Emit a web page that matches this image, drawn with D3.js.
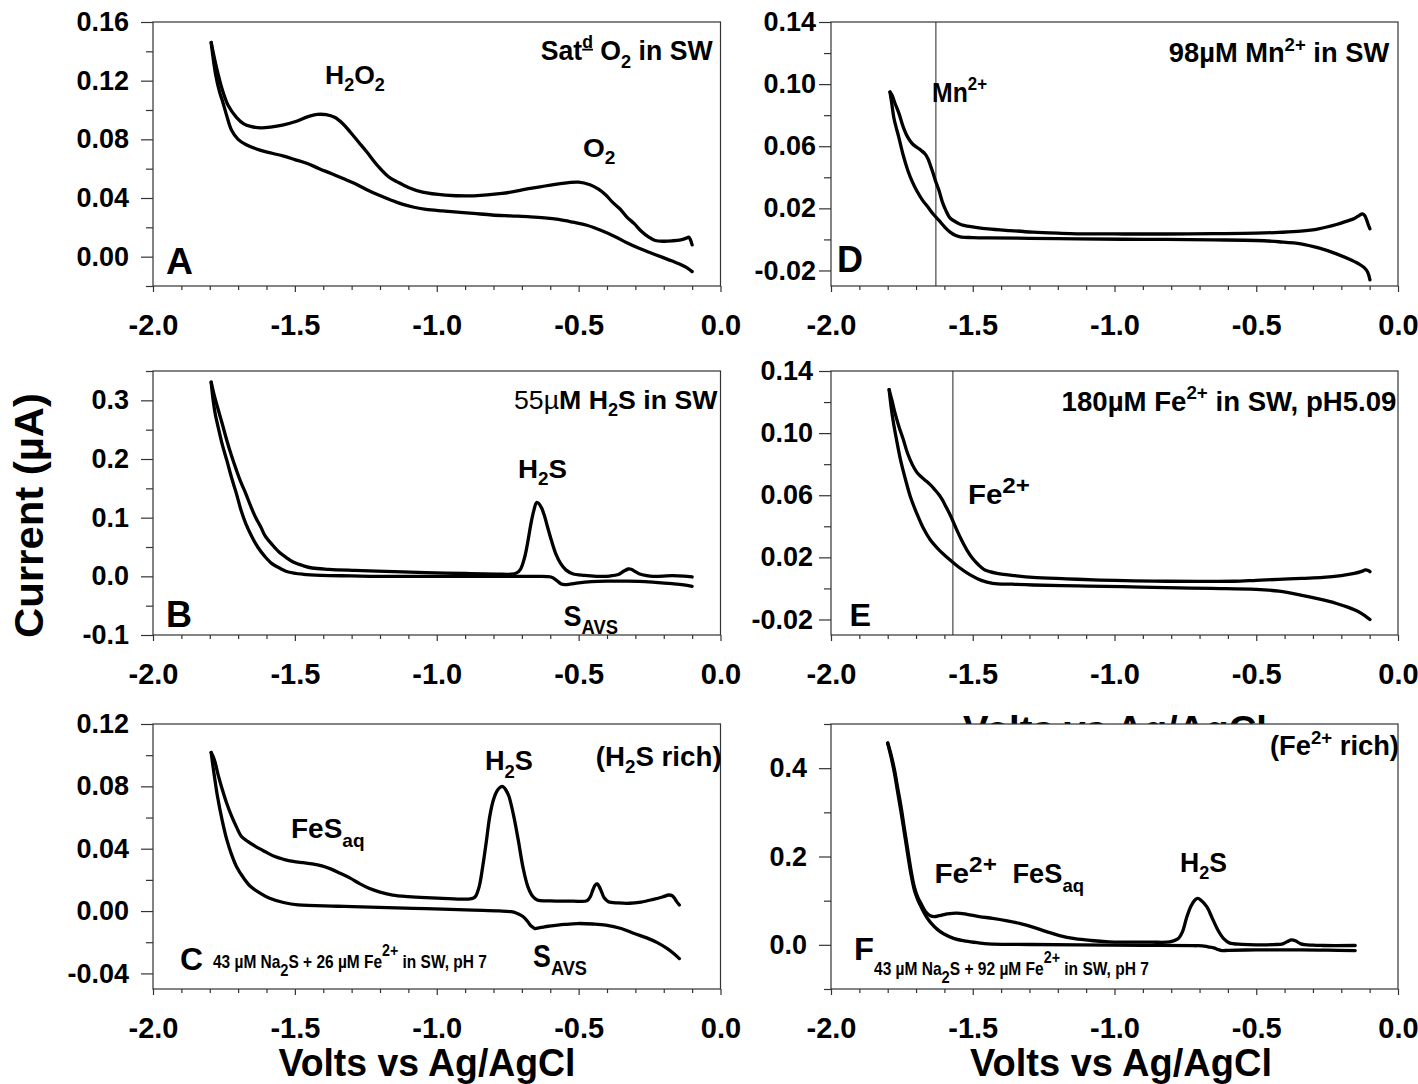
<!DOCTYPE html>
<html>
<head>
<meta charset="utf-8">
<script src="https://cdn.jsdelivr.net/npm/d3@7"></script>
<style>
  body { margin: 0; background: #fff; }
  svg { display: block; }
</style>
</head>
<body>
<svg id="fig" width="1418" height="1084"></svg>
<script>
// ---------- voltammogram traces: [potential (V vs Ag/AgCl), current (µA)] ----------
// A: saturated O2 in seawater
const aForward = [[-1.795,0.146],[-1.775,0.128],[-1.756,0.114],[-1.735,0.103],[-1.706,0.095],[-1.68,0.0905],[-1.656,0.0888],[-1.62,0.0878],[-1.58,0.0885],[-1.54,0.0898],[-1.5,0.092],[-1.456,0.0953],[-1.42,0.097],[-1.39,0.0968],[-1.36,0.095],[-1.33,0.0905],[-1.305,0.085],[-1.275,0.078],[-1.247,0.0715],[-1.205,0.0613],[-1.17,0.0545],[-1.139,0.051],[-1.1,0.0472],[-1.05,0.044],[-0.97,0.042],[-0.87,0.0415],[-0.77,0.0431],[-0.67,0.0465],[-0.57,0.0497],[-0.5,0.0508],[-0.46,0.049],[-0.43,0.046],[-0.404,0.042],[-0.38,0.037],[-0.354,0.0325],[-0.33,0.027],[-0.304,0.0225],[-0.28,0.0175],[-0.254,0.0135],[-0.23,0.011],[-0.2,0.0105],[-0.17,0.0108],[-0.14,0.0115],[-0.118,0.0128],[-0.112,0.0133],[-0.106,0.0115],[-0.1,0.008]];
const aReverse = [[-1.795,0.146],[-1.78,0.125],[-1.765,0.112],[-1.756,0.1067],[-1.74,0.096],[-1.723,0.0862],[-1.7,0.08],[-1.673,0.0765],[-1.623,0.0726],[-1.58,0.0705],[-1.539,0.0685],[-1.5,0.0662],[-1.456,0.0635],[-1.414,0.06],[-1.372,0.0567],[-1.33,0.0533],[-1.289,0.0499],[-1.25,0.046],[-1.205,0.042],[-1.16,0.0385],[-1.122,0.0358],[-1.08,0.0337],[-1.038,0.0322],[-0.98,0.0312],[-0.938,0.0306],[-0.87,0.0295],[-0.805,0.0284],[-0.74,0.0278],[-0.671,0.0272],[-0.62,0.0265],[-0.571,0.0254],[-0.52,0.0235],[-0.471,0.0214],[-0.42,0.0178],[-0.371,0.0136],[-0.33,0.0095],[-0.287,0.0057],[-0.245,0.0025],[-0.204,-0.0005],[-0.17,-0.003],[-0.137,-0.0057],[-0.115,-0.008],[-0.1,-0.0102]];

// D: 98 µM Mn2+ in seawater
const dForward = [[-1.792,0.0949],[-1.785,0.093],[-1.775,0.088],[-1.76,0.081],[-1.745,0.0723],[-1.73,0.066],[-1.713,0.0616],[-1.695,0.059],[-1.682,0.0573],[-1.668,0.055],[-1.658,0.0519],[-1.65,0.048],[-1.643,0.0444],[-1.632,0.038],[-1.619,0.0315],[-1.607,0.024],[-1.595,0.0187],[-1.583,0.0145],[-1.572,0.0126],[-1.55,0.0103],[-1.532,0.009],[-1.49,0.0078],[-1.446,0.0068],[-1.37,0.0057],[-1.288,0.0047],[-1.2,0.004],[-1.131,0.0036],[-0.97,0.0035],[-0.816,0.0035],[-0.65,0.0037],[-0.501,0.004],[-0.42,0.0045],[-0.343,0.0053],[-0.28,0.0068],[-0.217,0.0096],[-0.18,0.0118],[-0.154,0.0135],[-0.136,0.0155],[-0.126,0.0165],[-0.118,0.0155],[-0.112,0.0133],[-0.105,0.0095],[-0.099,0.0068]];
const dReverse = [[-1.792,0.0949],[-1.786,0.088],[-1.778,0.078],[-1.77,0.072],[-1.761,0.0659],[-1.745,0.054],[-1.729,0.0444],[-1.713,0.037],[-1.698,0.0315],[-1.678,0.0255],[-1.658,0.0208],[-1.638,0.016],[-1.619,0.0122],[-1.6,0.0082],[-1.58,0.0047],[-1.56,0.0025],[-1.54,0.0015],[-1.5,0.0012],[-1.446,0.001],[-1.3,0.0007],[-1.131,0.0004],[-0.97,0.0001],[-0.816,0],[-0.65,-0.0003],[-0.501,-0.0007],[-0.42,-0.0015],[-0.343,-0.0028],[-0.28,-0.0055],[-0.217,-0.0093],[-0.175,-0.0125],[-0.139,-0.0157],[-0.12,-0.018],[-0.107,-0.0211],[-0.099,-0.026]];

// B: 55 µM H2S in seawater
const bForward = [[-1.795,0.331],[-1.785,0.31],[-1.773,0.289],[-1.756,0.26],[-1.74,0.232],[-1.723,0.205],[-1.706,0.181],[-1.69,0.16],[-1.673,0.141],[-1.656,0.12],[-1.639,0.101],[-1.62,0.084],[-1.606,0.07],[-1.58,0.054],[-1.556,0.0415],[-1.53,0.032],[-1.506,0.0244],[-1.47,0.018],[-1.439,0.0142],[-1.38,0.012],[-1.289,0.0102],[-1.15,0.008],[-1.038,0.0063],[-0.9,0.0048],[-0.79,0.0038],[-0.738,0.0036],[-0.72,0.0055],[-0.705,0.012],[-0.69,0.033],[-0.678,0.062],[-0.668,0.0898],[-0.658,0.112],[-0.648,0.126],[-0.64,0.124],[-0.63,0.116],[-0.621,0.104],[-0.61,0.085],[-0.596,0.0614],[-0.58,0.038],[-0.563,0.0216],[-0.545,0.011],[-0.521,0.0045],[-0.48,0.0015],[-0.437,0],[-0.39,0.0005],[-0.36,0.003],[-0.34,0.009],[-0.325,0.0125],[-0.315,0.012],[-0.3,0.008],[-0.287,0.0045],[-0.26,0.0012],[-0.237,0],[-0.17,0.0011],[-0.13,0.0005],[-0.1,-0.0011]];
const bReverse = [[-1.795,0.331],[-1.788,0.3],[-1.78,0.275],[-1.773,0.26],[-1.756,0.225],[-1.74,0.198],[-1.723,0.168],[-1.706,0.141],[-1.69,0.113],[-1.673,0.0898],[-1.652,0.068],[-1.631,0.05],[-1.606,0.034],[-1.581,0.0216],[-1.55,0.013],[-1.523,0.0074],[-1.47,0.0035],[-1.406,0.0017],[-1.3,0.0008],[-1.205,0],[-1.0,0],[-0.871,0],[-0.7,0],[-0.638,0],[-0.61,-0.0005],[-0.591,-0.0023],[-0.575,-0.008],[-0.563,-0.0125],[-0.548,-0.014],[-0.53,-0.0132],[-0.5,-0.011],[-0.454,-0.009],[-0.4,-0.0082],[-0.34,-0.0082],[-0.287,-0.0085],[-0.23,-0.0102],[-0.17,-0.0125],[-0.13,-0.0145],[-0.1,-0.017]];

// E: 180 µM Fe2+ in seawater, pH 5.09
const eForward = [[-1.795,0.128],[-1.785,0.121],[-1.776,0.1142],[-1.76,0.104],[-1.745,0.0959],[-1.73,0.087],[-1.713,0.0797],[-1.7,0.0755],[-1.69,0.0732],[-1.67,0.07],[-1.65,0.0668],[-1.635,0.0638],[-1.619,0.0603],[-1.607,0.057],[-1.595,0.0528],[-1.583,0.0485],[-1.572,0.0442],[-1.556,0.0375],[-1.54,0.0313],[-1.52,0.0245],[-1.501,0.0194],[-1.48,0.0152],[-1.461,0.0123],[-1.44,0.0108],[-1.414,0.0097],[-1.35,0.0082],[-1.288,0.0071],[-1.17,0.0062],[-1.052,0.0054],[-0.93,0.0049],[-0.816,0.0046],[-0.7,0.0045],[-0.58,0.0046],[-0.5,0.0052],[-0.422,0.0058],[-0.34,0.0065],[-0.265,0.0071],[-0.2,0.0083],[-0.154,0.0097],[-0.128,0.011],[-0.115,0.0119],[-0.105,0.0115],[-0.099,0.0108]];
const eReverse = [[-1.795,0.128],[-1.788,0.117],[-1.78,0.107],[-1.769,0.0959],[-1.755,0.083],[-1.737,0.07],[-1.72,0.059],[-1.698,0.0485],[-1.675,0.039],[-1.65,0.0313],[-1.62,0.025],[-1.587,0.0194],[-1.55,0.0138],[-1.509,0.0087],[-1.47,0.0052],[-1.43,0.0033],[-1.36,0.0027],[-1.288,0.0022],[-1.13,0.0016],[-0.973,0.0011],[-0.82,0.0005],[-0.658,0],[-0.501,-0.0006],[-0.42,-0.0018],[-0.343,-0.0043],[-0.28,-0.0068],[-0.217,-0.0097],[-0.175,-0.0122],[-0.139,-0.015],[-0.115,-0.0178],[-0.099,-0.02]];

// C: 43 µM Na2S + 26 µM Fe2+ (H2S rich)
const cForward = [[-1.795,0.1017],[-1.788,0.099],[-1.781,0.0953],[-1.77,0.087],[-1.756,0.0781],[-1.74,0.069],[-1.723,0.0609],[-1.706,0.054],[-1.689,0.048],[-1.665,0.0445],[-1.639,0.0415],[-1.606,0.0382],[-1.573,0.0351],[-1.54,0.0332],[-1.506,0.0318],[-1.47,0.031],[-1.439,0.0303],[-1.405,0.029],[-1.372,0.0269],[-1.34,0.0242],[-1.305,0.0211],[-1.272,0.0176],[-1.239,0.0146],[-1.2,0.0122],[-1.155,0.0103],[-1.1,0.0093],[-1.038,0.0086],[-0.96,0.008],[-0.888,0.0077],[-0.872,0.0082],[-0.863,0.0095],[-0.85,0.016],[-0.838,0.0286],[-0.825,0.045],[-0.813,0.0609],[-0.8,0.0715],[-0.788,0.077],[-0.776,0.0795],[-0.766,0.0798],[-0.756,0.0775],[-0.746,0.0738],[-0.73,0.062],[-0.713,0.0458],[-0.696,0.028],[-0.679,0.0157],[-0.662,0.0095],[-0.646,0.0071],[-0.6,0.0065],[-0.52,0.0064],[-0.471,0.0066],[-0.458,0.0095],[-0.45,0.0135],[-0.441,0.0168],[-0.434,0.0174],[-0.427,0.0155],[-0.418,0.0118],[-0.41,0.0085],[-0.395,0.006],[-0.36,0.0052],[-0.321,0.005],[-0.28,0.0058],[-0.237,0.0075],[-0.205,0.009],[-0.182,0.0103],[-0.17,0.0098],[-0.162,0.0082],[-0.155,0.0062],[-0.145,0.0039]];
const cReverse = [[-1.795,0.1017],[-1.788,0.092],[-1.78,0.082],[-1.773,0.0738],[-1.756,0.058],[-1.74,0.0458],[-1.723,0.0362],[-1.706,0.0286],[-1.68,0.021],[-1.656,0.0157],[-1.62,0.0112],[-1.589,0.0082],[-1.54,0.0055],[-1.489,0.0039],[-1.35,0.0031],[-1.205,0.0024],[-1.04,0.0015],[-0.871,0.0006],[-0.78,0.0001],[-0.738,-0.0004],[-0.72,-0.0012],[-0.704,-0.0026],[-0.69,-0.0045],[-0.679,-0.0069],[-0.666,-0.0098],[-0.654,-0.0112],[-0.64,-0.0108],[-0.62,-0.0101],[-0.604,-0.0097],[-0.55,-0.0086],[-0.504,-0.008],[-0.45,-0.0083],[-0.404,-0.009],[-0.35,-0.0112],[-0.304,-0.0144],[-0.26,-0.0172],[-0.221,-0.0204],[-0.19,-0.0238],[-0.165,-0.0272],[-0.145,-0.0305]];

// F: 43 µM Na2S + 92 µM Fe2+ (Fe2+ rich)
const fForward = [[-1.8,0.457],[-1.788,0.43],[-1.776,0.396],[-1.765,0.356],[-1.753,0.313],[-1.741,0.263],[-1.729,0.214],[-1.718,0.17],[-1.706,0.131],[-1.694,0.108],[-1.682,0.093],[-1.666,0.075],[-1.65,0.066],[-1.635,0.064],[-1.619,0.066],[-1.59,0.07],[-1.556,0.072],[-1.52,0.069],[-1.477,0.064],[-1.43,0.06],[-1.383,0.055],[-1.335,0.0485],[-1.288,0.04],[-1.24,0.03],[-1.194,0.021],[-1.14,0.014],[-1.083,0.0098],[-1.02,0.0068],[-0.973,0.006],[-0.87,0.006],[-0.816,0.006],[-0.795,0.0085],[-0.776,0.0136],[-0.76,0.03],[-0.745,0.063],[-0.73,0.088],[-0.717,0.101],[-0.706,0.105],[-0.695,0.101],[-0.674,0.086],[-0.655,0.06],[-0.635,0.033],[-0.615,0.014],[-0.595,0.0045],[-0.55,0.0012],[-0.501,0],[-0.44,0.0005],[-0.406,0.0023],[-0.39,0.0075],[-0.375,0.0114],[-0.36,0.0085],[-0.343,0.0023],[-0.3,-0.0008],[-0.265,-0.0015],[-0.151,-0.0015]];
const fReverse = [[-1.8,0.457],[-1.788,0.425],[-1.776,0.388],[-1.765,0.346],[-1.753,0.301],[-1.741,0.252],[-1.729,0.203],[-1.718,0.16],[-1.706,0.124],[-1.694,0.102],[-1.682,0.0856],[-1.666,0.066],[-1.65,0.0515],[-1.625,0.035],[-1.603,0.025],[-1.565,0.014],[-1.524,0.0083],[-1.48,0.0045],[-1.446,0.0023],[-1.3,0.0008],[-1.131,0],[-0.9,-0.001],[-0.72,-0.002],[-0.69,-0.0023],[-0.67,-0.0045],[-0.65,-0.0068],[-0.635,-0.0105],[-0.619,-0.013],[-0.6,-0.0125],[-0.501,-0.0114],[-0.4,-0.0114],[-0.343,-0.0114],[-0.25,-0.012],[-0.151,-0.013]];

// peak-potential markers (V)
const dMarker = -1.63;
const eMarker = -1.57;

// ---------- axes: domains and tick values ----------
const xDomain = [-2, 0];
const xMajorTicks = [-2.0, -1.5, -1.0, -0.5, 0.0];
const xMinorTicks = [-1.9,-1.8,-1.7,-1.6,-1.4,-1.3,-1.2,-1.1,-0.9,-0.8,-0.7,-0.6,-0.4,-0.3,-0.2,-0.1];

const aDomain = [-0.02, 0.16], aMajor = [0, 0.04, 0.08, 0.12, 0.16], aMinor = [-0.02, 0.02, 0.06, 0.10, 0.14];
const dDomain = [-0.03, 0.14], dMajor = [-0.02, 0.02, 0.06, 0.10, 0.14], dMinor = [0, 0.04, 0.08, 0.12];
const bDomain = [-0.1, 0.35], bMajor = [-0.1, 0, 0.1, 0.2, 0.3], bMinor = [-0.05, 0.05, 0.15, 0.25, 0.35];
const eDomain = [-0.03, 0.14], eMajor = [-0.02, 0.02, 0.06, 0.10, 0.14], eMinor = [0, 0.04, 0.08, 0.12];
const cDomain = [-0.05, 0.12], cMajor = [-0.04, 0, 0.04, 0.08, 0.12], cMinor = [-0.02, 0.02, 0.06, 0.10];
const fDomain = [-0.1, 0.5], fMajor = [0, 0.2, 0.4], fMinor = [-0.1, 0.1, 0.3, 0.5];

const yTitle = "Current (\u00B5A)";
const xTitle = "Volts vs Ag/AgCl";

// ---------- layout ----------
const FONT = '"Liberation Sans", Arial, Helvetica, sans-serif';
const AXIS = "#333";
const svg = d3.select("#fig");

const panels = [
  { x0: 153, x1: 720.5, y0: 22,  y1: 286, dom: aDomain, major: aMajor, minor: aMinor, dec: 2, pad: 12, traces: [aForward, aReverse] },
  { x0: 831, x1: 1398,  y0: 22,  y1: 286, dom: dDomain, major: dMajor, minor: dMinor, dec: 2, pad: 3,  traces: [dForward, dReverse], marker: dMarker },
  { x0: 153, x1: 720.5, y0: 371, y1: 635, dom: bDomain, major: bMajor, minor: bMinor, dec: 1, pad: 12, traces: [bForward, bReverse] },
  { x0: 831, x1: 1398,  y0: 371, y1: 635, dom: eDomain, major: eMajor, minor: eMinor, dec: 2, pad: 6,  traces: [eForward, eReverse], marker: eMarker },
  { x0: 153, x1: 720.5, y0: 724, y1: 989, dom: cDomain, major: cMajor, minor: cMinor, dec: 2, pad: 12, traces: [cForward, cReverse] },
  { x0: 831, x1: 1398,  y0: 724, y1: 989, dom: fDomain, major: fMajor, minor: fMinor, dec: 1, pad: 12, traces: [fForward, fReverse] }
];

// rich-text helper: segments of [text, style]; the run is stretched to width w
const segStyle = {
  n:     { size: 1,    shift: 0 },
  sub:   { size: 0.68, shift: 0.27 },
  sub2:  { size: 0.68, shift: 0.33 },
  sup:   { size: 0.68, shift: -0.42 },
  usup:  { size: 0.66, shift: -0.44, underline: true },
  bsup:  { size: 0.82, shift: -0.4 },
  fsub:  { size: 0.95, shift: 0.42 },
  fsup:  { size: 0.92, shift: -0.66 },
  light: { size: 1,    shift: 0, weight: "normal" }
};

function richText(parent, o) {
  const t = parent.append("text")
    .attr("font-family", FONT).attr("font-weight", "bold")
    .attr("font-size", o.fs).attr("fill", "#000");
  let cur = 0;
  o.segs.forEach(([s, kind]) => {
    const st = segStyle[kind || "n"];
    const target = st.shift * o.fs;
    const ts = t.append("tspan").text(s)
      .attr("font-size", st.size * o.fs)
      .attr("dy", target - cur);
    if (st.weight) ts.attr("font-weight", st.weight);
    if (st.underline) ts.attr("text-decoration", "underline");
    cur = target;
  });
  const bb = t.node().getBBox();
  const sx = o.w ? o.w / bb.width : 1;
  const left = o.cx !== undefined ? o.cx - (o.w || bb.width) / 2 : o.x;
  t.attr("transform", `translate(${left - bb.x * sx},${o.y}) scale(${sx},1)`);
  return t;
}

// axis title of the middle row, partly hidden beneath the lower-right panel
richText(svg, { segs: [[xTitle]], cx: 1115, y: 741.5, w: 304, fs: 37 });

const line = (x, y) => d3.line()
  .x(d => x(d[0])).y(d => y(d[1]))
  .curve(d3.curveCatmullRom.alpha(0.5));

function styleAxis(g, fs) {
  g.attr("font-family", FONT).attr("font-weight", "bold").attr("font-size", fs);
  g.select(".domain").remove();
  g.selectAll(".tick line").attr("stroke", AXIS).attr("stroke-width", 1.2);
  g.selectAll(".tick text").attr("fill", "#000");
}

panels.forEach(p => {
  const x = d3.scaleLinear().domain(xDomain).range([p.x0, p.x1]);
  const y = d3.scaleLinear().domain(p.dom).range([p.y1, p.y0]);
  const g = svg.append("g");

  g.append("rect")
    .attr("x", p.x0).attr("y", p.y0)
    .attr("width", p.x1 - p.x0).attr("height", p.y1 - p.y0)
    .attr("fill", "#fff");

  // y axis
  g.append("g").attr("transform", `translate(${p.x0},0)`)
    .call(d3.axisLeft(y).tickValues(p.minor).tickSize(7).tickFormat(""))
    .call(s => styleAxis(s, 27));
  g.append("g").attr("transform", `translate(${p.x0},0)`)
    .call(d3.axisLeft(y).tickValues(p.major).tickSize(12).tickPadding(p.pad)
      .tickFormat(d => d.toFixed(p.dec)))
    .call(s => styleAxis(s, 27));

  // x axis
  g.append("g").attr("transform", `translate(0,${p.y1})`)
    .call(d3.axisBottom(x).tickValues(xMinorTicks).tickSize(4).tickFormat(""))
    .call(s => styleAxis(s, 29));
  g.append("g").attr("transform", `translate(0,${p.y1})`)
    .call(d3.axisBottom(x).tickValues(xMajorTicks).tickSize(6).tickPadding(22)
      .tickFormat(d => d.toFixed(1)))
    .call(s => styleAxis(s, 29));

  // frame
  g.append("rect")
    .attr("x", p.x0).attr("y", p.y0)
    .attr("width", p.x1 - p.x0).attr("height", p.y1 - p.y0)
    .attr("fill", "none").attr("stroke", AXIS).attr("stroke-width", 1.2);

  if (p.marker !== undefined) {
    g.append("line")
      .attr("x1", x(p.marker)).attr("x2", x(p.marker))
      .attr("y1", p.y0).attr("y2", p.y1)
      .attr("stroke", "#222").attr("stroke-width", 1);
  }

  g.selectAll("path.trace").data(p.traces).join("path")
    .attr("class", "trace")
    .attr("d", line(x, y))
    .attr("fill", "none").attr("stroke", "#000")
    .attr("stroke-width", 3.3)
    .attr("stroke-linejoin", "round").attr("stroke-linecap", "round");
});

// ---------- annotations ----------
const notes = [
  // A
  { segs: [["Sat"], ["d", "usup"], [" O"], ["2", "sub"], [" in SW"]], x: 540.7, y: 60, w: 172.6, fs: 28 },
  { segs: [["H"], ["2", "sub"], ["O"], ["2", "sub"]], x: 325, y: 84, w: 60, fs: 26 },
  { segs: [["O"], ["2", "sub"]], x: 583, y: 157, w: 32.6, fs: 26 },
  { segs: [["A"]], x: 166, y: 274, w: 27, fs: 37 },
  // D
  { segs: [["98\u00B5M Mn"], ["2+", "sup"], [" in SW"]], x: 1168.8, y: 62, w: 221, fs: 27 },
  { segs: [["Mn"], ["2+", "sup"]], x: 932, y: 101.7, w: 55, fs: 27 },
  { segs: [["D"]], x: 837, y: 272, w: 26, fs: 36 },
  // B
  { segs: [["55\u00B5", "light"], ["M H"], ["2", "sub"], ["S in SW"]], x: 514, y: 408.5, w: 204, fs: 26 },
  { segs: [["H"], ["2", "sub"], ["S"]], x: 518, y: 478, w: 49, fs: 26 },
  { segs: [["S"], ["AVS", "sub"]], x: 563.5, y: 626, w: 54.5, fs: 29 },
  { segs: [["B"]], x: 166, y: 627, w: 26, fs: 36 },
  // E
  { segs: [["180\u00B5M Fe"], ["2+", "sup"], [" in SW, pH5.09"]], x: 1061.6, y: 410.7, w: 335, fs: 27 },
  { segs: [["Fe"], ["2+", "bsup"]], x: 968, y: 504, w: 62, fs: 27 },
  { segs: [["E"]], x: 849.5, y: 626, w: 21.5, fs: 32 },
  // C
  { segs: [["(H"], ["2", "sub"], ["S rich)"]], x: 595.7, y: 766, w: 126, fs: 27 },
  { segs: [["H"], ["2", "sub"], ["S"]], x: 485, y: 770, w: 48, fs: 28 },
  { segs: [["FeS"], ["aq", "sub2"]], x: 291, y: 838, w: 73.6, fs: 28 },
  { segs: [["C"]], x: 180, y: 970, w: 23, fs: 32 },
  { segs: [["43 \u00B5M Na"], ["2", "fsub"], ["S + 26 \u00B5M Fe"], ["2+", "fsup"], [" in SW, pH 7"]], x: 213, y: 968, w: 274, fs: 18 },
  { segs: [["S"], ["AVS", "sub"]], x: 533, y: 967, w: 54, fs: 31 },
  // F
  { segs: [["(Fe"], ["2+", "sup"], [" rich)"]], x: 1270, y: 755, w: 129, fs: 27 },
  { segs: [["H"], ["2", "sub"], ["S"]], x: 1180, y: 872, w: 47, fs: 27 },
  { segs: [["Fe"], ["2+", "bsup"]], x: 934.4, y: 883, w: 62.5, fs: 28 },
  { segs: [["FeS"], ["aq", "sub2"]], x: 1012.5, y: 883, w: 71.5, fs: 28 },
  { segs: [["F"]], x: 854, y: 960, w: 20, fs: 32 },
  { segs: [["43 \u00B5M Na"], ["2", "fsub"], ["S + 92 \u00B5M Fe"], ["2+", "fsup"], [" in SW, pH 7"]], x: 874, y: 975, w: 275, fs: 18 }
];
notes.forEach(o => richText(svg, o));

// axis titles
richText(svg, { segs: [[xTitle]], cx: 427, y: 1076, w: 297, fs: 38 });
richText(svg, { segs: [[xTitle]], cx: 1121, y: 1076, w: 302, fs: 38 });

const yt = svg.append("text")
  .attr("font-family", FONT).attr("font-weight", "bold")
  .attr("font-size", 40).attr("text-anchor", "middle").attr("fill", "#000")
  .text(yTitle);
const ytw = yt.node().getBBox().width;
yt.attr("transform", `translate(43,515.5) rotate(-90) scale(${245 / ytw},1)`);
</script>
</body>
</html>
